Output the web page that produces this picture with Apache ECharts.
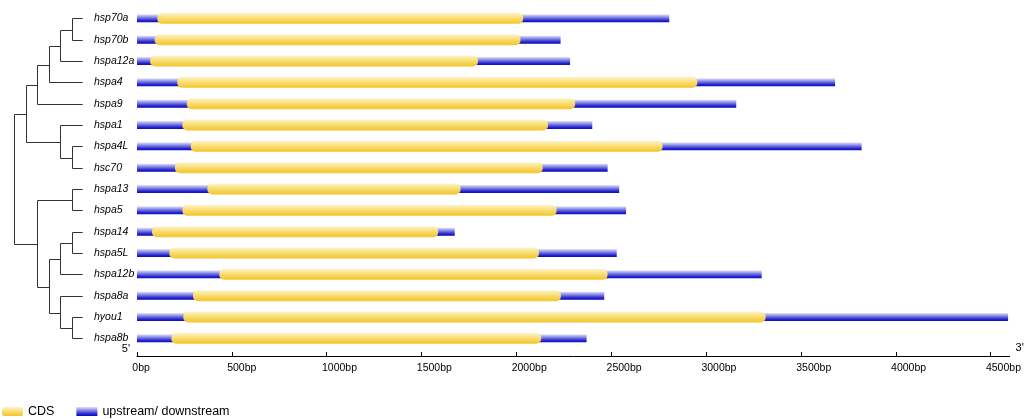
<!DOCTYPE html>
<html>
<head>
<meta charset="utf-8">
<title>HSP70 gene structure</title>
<script src="https://cdn.jsdelivr.net/npm/echarts@6/dist/echarts.min.js"></script>
<style>
  html, body { margin: 0; padding: 0; background: #fff; }
  #main { width: 1036px; height: 419px; }
</style>
</head>
<body>
<div id="main"></div>
<script>
// genes from top to bottom, lengths in bp
const genes = ['hsp70a', 'hsp70b', 'hspa12a', 'hspa4', 'hspa9', 'hspa1', 'hspa4L', 'hsc70',
  'hspa13', 'hspa5', 'hspa14', 'hspa5L', 'hspa12b', 'hspa8a', 'hyou1', 'hspa8b'];
const cdsStart = [107, 93, 69, 212, 262, 239, 283, 200, 371, 239, 79, 170, 434, 295, 244, 181];
const cdsEnd = [2036, 2022, 1798, 2954, 2310, 2167, 2771, 2139, 1706, 2212, 1588, 2119, 2481, 2235, 3314, 2131];
const geneLength = [2806, 2233, 2283, 3680, 3159, 2400, 3820, 2481, 2542, 2578, 1675, 2529, 3293, 2463, 4592, 2370];
const tickValues = [0, 500, 1000, 1500, 2000, 2500, 3000, 3500, 4000, 4500];

// tree: [level, left, right], leaves are gene names
const tree = [0,
  [1,
    [2, [3, [4, [5, 'hsp70a', 'hsp70b'], 'hspa12a'], 'hspa4'], 'hspa9'],
    [4, 'hspa1', [5, 'hspa4L', 'hsc70']]
  ],
  [2,
    [5, 'hspa13', 'hspa5'],
    [3, [4, [5, 'hspa14', 'hspa5L'], 'hspa12b'], [4, 'hspa8a', [5, 'hyou1', 'hspa8b']]]
  ]
];

const cdsLen = cdsEnd.map((v, i) => v - cdsStart[i]);

const blueGrad = {
  type: 'linear', x: 0, y: 0, x2: 0, y2: 1,
  colorStops: [
    { offset: 0, color: '#e2e2f8' },
    { offset: 0.35, color: '#8c8ce6' },
    { offset: 0.75, color: '#2a2ad2' },
    { offset: 1, color: '#0a0ab8' }
  ]
};
const yellowGrad = {
  type: 'linear', x: 0, y: 0, x2: 0, y2: 1,
  colorStops: [
    { offset: 0, color: '#fdf4cc' },
    { offset: 0.5, color: '#f9dc70' },
    { offset: 1, color: '#f3c52a' }
  ]
};

const chart = echarts.init(document.getElementById('main'));

const option = {
  animation: false,
  textStyle: { fontFamily: 'Liberation Sans, Arial, sans-serif' },
  grid: { left: 137, right: 26.4, top: 7.7, bottom: 70 },
  legend: {
    left: 2,
    top: 405,
    padding: 0,
    itemWidth: 21,
    itemHeight: 9,
    itemGap: 22,
    textStyle: { fontSize: 12.5, color: '#000' },
    data: [
      { name: 'CDS', icon: 'roundRect', itemStyle: { color: yellowGrad } },
      { name: 'upstream/ downstream', icon: 'rect', itemStyle: { color: blueGrad } }
    ]
  },
  xAxis: {
    type: 'value',
    min: 0,
    max: 4600,
    offset: 7,
    splitLine: { show: false },
    axisLine: { show: true, lineStyle: { color: '#000', width: 1 } },
    axisTick: { show: true, inside: true, length: 4, customValues: tickValues, lineStyle: { color: '#000' } },
    axisLabel: {
      customValues: tickValues,
      // number sits on the tick, "bp" hangs to the right
      formatter: v => '{t|' + v + 'bp}',
      align: 'left',
      margin: 6.5,
      rich: {
        t: { fontSize: 10.5, color: '#000', padding: [0, 0, 0, -4.7] }
      }
    }
  },
  yAxis: [
    {
      type: 'category',
      inverse: true,
      data: genes,
      axisLine: { show: false },
      axisTick: { show: false },
      axisLabel: {
        align: 'left',
        margin: 43,
        fontStyle: 'italic',
        fontSize: 10.5,
        color: '#000'
      }
    },
    { type: 'category', inverse: true, data: genes, show: false }
  ],
  series: [
    {
      // whole transcript, the CDS is drawn on top of it
      name: 'upstream/ downstream',
      type: 'bar',
      yAxisIndex: 1,
      barWidth: 8,
      data: geneLength,
      itemStyle: { color: blueGrad }
    },
    {
      name: 'offset',
      type: 'bar',
      yAxisIndex: 0,
      stack: 'cds',
      barWidth: 11,
      data: cdsStart,
      itemStyle: { color: 'transparent' },
      silent: true
    },
    {
      name: 'CDS',
      type: 'bar',
      yAxisIndex: 0,
      stack: 'cds',
      barWidth: 11,
      data: cdsLen,
      itemStyle: { color: yellowGrad, borderRadius: 5 }
    }
  ]
};

chart.setOption(option);

// dendrogram on the left, leaves follow the category axis
const rootX = 14.3, step = 11.5, leafX = 82.7;
const lines = [];
function addLine(x1, y1, x2, y2) {
  lines.push({
    type: 'line',
    shape: { x1: x1, y1: y1, x2: x2, y2: y2 },
    style: { stroke: '#333', lineWidth: 1 },
    silent: true
  });
}
function drawNode(node) {
  if (typeof node === 'string') {
    return { x: leafX, y: Math.round(chart.convertToPixel({ yAxisIndex: 0 }, node)) + 0.5 };
  }
  const a = drawNode(node[1]);
  const b = drawNode(node[2]);
  const x = Math.round(rootX + node[0] * step) + 0.5;
  addLine(x, a.y, x, b.y);
  addLine(x, a.y, a.x, a.y);
  addLine(x, b.y, b.x, b.y);
  return { x: x, y: Math.round((a.y + b.y) / 2) + 0.5 };
}
drawNode(tree);

const x0 = chart.convertToPixel({ xAxisIndex: 0 }, 0);
const x1 = chart.convertToPixel({ xAxisIndex: 0 }, 4600);
lines.push({
  type: 'text', x: x0 - 7, y: 349, silent: true,
  style: { text: "5'", fontSize: 11, fill: '#000', align: 'right', verticalAlign: 'middle', fontFamily: 'Liberation Sans, Arial, sans-serif' }
});
lines.push({
  type: 'text', x: x1 + 6, y: 348, silent: true,
  style: { text: "3'", fontSize: 11, fill: '#000', align: 'left', verticalAlign: 'middle', fontFamily: 'Liberation Sans, Arial, sans-serif' }
});

chart.setOption({ graphic: lines });
</script>
</body>
</html>
